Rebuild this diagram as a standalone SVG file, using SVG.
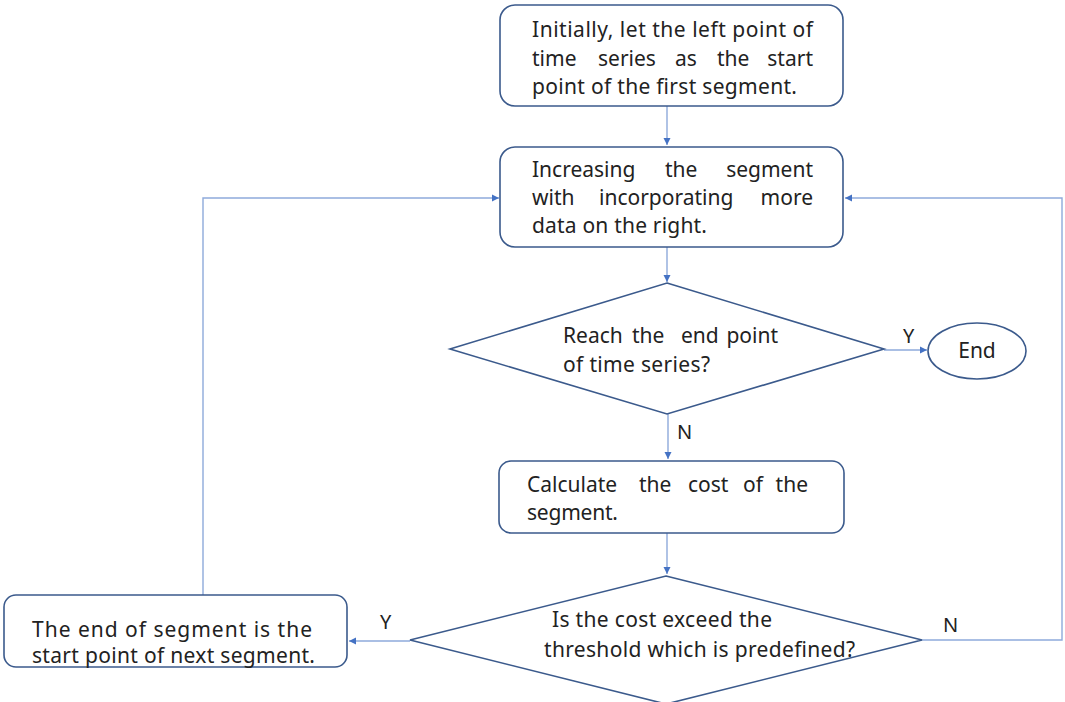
<svg xmlns="http://www.w3.org/2000/svg" width="1065" height="702" viewBox="0 0 1065 702">
  <style>
    .shape { fill: #ffffff; stroke: #3b5a8c; stroke-width: 1.6; }
    .conn { fill: none; stroke: #8eaadb; stroke-width: 1.4; }
    .t { font-family: "Noto Sans", "Liberation Sans", sans-serif; font-size: 21px; fill: #222222; }
    .lbl { font-family: "Noto Sans", "Liberation Sans", sans-serif; font-size: 20px; fill: #222222; }
    .e { text-anchor: end; }
  </style>
  <defs>
    <marker id="arr" markerWidth="8" markerHeight="8" refX="7" refY="4" orient="auto" markerUnits="userSpaceOnUse">
      <path d="M0,0.5 L7,4 L0,7.5 Z" fill="#4472c4"/>
    </marker>
  </defs>
  <rect width="1065" height="702" fill="#ffffff"/>

  <g id="connectors">
    <path class="conn" d="M667,106 L667,145" marker-end="url(#arr)"/>
    <path class="conn" d="M667,247 L667,282" marker-end="url(#arr)"/>
    <path class="conn" d="M884,350 L927,350" marker-end="url(#arr)"/>
    <path class="conn" d="M668,414 L668,459" marker-end="url(#arr)"/>
    <path class="conn" d="M667,533 L667,574" marker-end="url(#arr)"/>
    <path class="conn" d="M410,641 L349,641" marker-end="url(#arr)"/>
    <path class="conn" d="M203,595 L203,198 L499,198" marker-end="url(#arr)"/>
    <path class="conn" d="M922,640 L1062,640 L1062,198 L845,198" marker-end="url(#arr)"/>
  </g>

  <g id="n_start">
    <rect class="shape" x="500" y="5" width="343" height="101" rx="15"/>
    <text class="t" x="532" y="37" textLength="281">Initially, let the left point of</text>
    <text class="t" y="66"><tspan x="532">time</tspan><tspan x="598">series</tspan><tspan x="675">as</tspan><tspan x="717">the</tspan><tspan class="e" x="813">start</tspan></text>
    <text class="t" x="532" y="94" textLength="265">point of the first segment.</text>
  </g>

  <g id="n_increase">
    <rect class="shape" x="500" y="147" width="343" height="100" rx="15"/>
    <text class="t" y="177"><tspan x="532">Increasing</tspan><tspan x="665">the</tspan><tspan class="e" x="813">segment</tspan></text>
    <text class="t" y="205"><tspan x="532">with</tspan><tspan x="599">incorporating</tspan><tspan class="e" x="813">more</tspan></text>
    <text class="t" x="532" y="233" textLength="175">data on the right.</text>
  </g>

  <g id="n_reach">
    <polygon class="shape" points="667,283 884,349 667,414 450,349"/>
    <text class="t" y="343"><tspan x="563">Reach</tspan><tspan x="632">the</tspan><tspan x="681">end</tspan><tspan class="e" x="778">point</tspan></text>
    <text class="t" x="563" y="372" textLength="147">of time series?</text>
  </g>

  <g id="n_end">
    <ellipse class="shape" cx="977" cy="351" rx="49" ry="28"/>
    <text class="t" x="977" y="358" text-anchor="middle">End</text>
  </g>

  <g id="n_calc">
    <rect class="shape" x="499" y="461" width="345" height="72" rx="12"/>
    <text class="t" y="492"><tspan x="527">Calculate</tspan><tspan x="639">the</tspan><tspan x="688">cost</tspan><tspan x="743">of</tspan><tspan class="e" x="808">the</tspan></text>
    <text class="t" x="527" y="520" textLength="91">segment.</text>
  </g>

  <g id="n_cost">
    <polygon class="shape" points="666,576 922,640 666,704 410,640"/>
    <text class="t" x="552" y="627" textLength="220">Is the cost exceed the</text>
    <text class="t" x="544" y="657" textLength="311">threshold which is predefined?</text>
  </g>

  <g id="n_next">
    <rect class="shape" x="4" y="595" width="343" height="72" rx="12"/>
    <text class="t" x="32" y="637" textLength="280">The end of segment is the</text>
    <text class="t" x="32" y="663" textLength="283">start point of next segment.</text>
  </g>

  <g id="labels">
    <text class="lbl" x="903" y="343">Y</text>
    <text class="lbl" x="677" y="439">N</text>
    <text class="lbl" x="380" y="629">Y</text>
    <text class="lbl" x="943" y="632">N</text>
  </g>
</svg>
